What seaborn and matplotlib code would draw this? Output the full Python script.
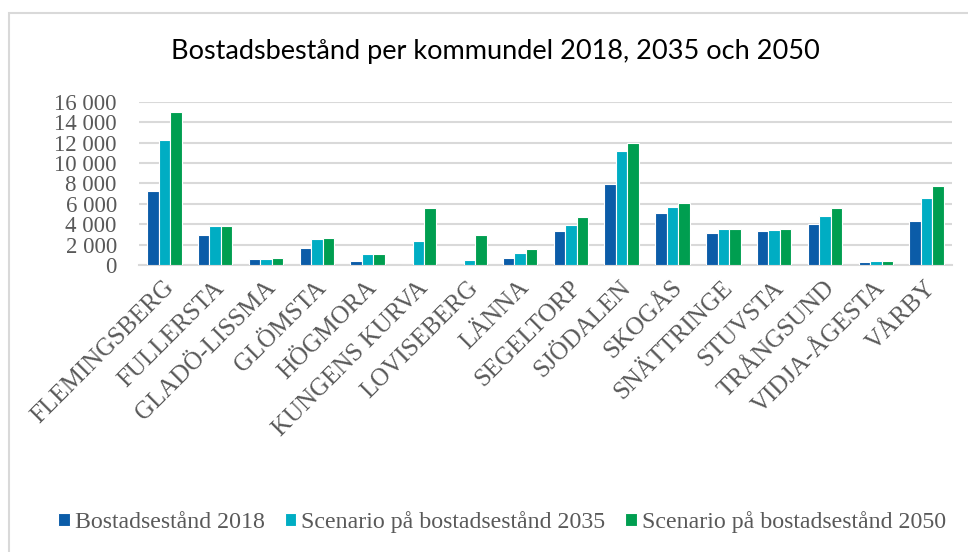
import matplotlib
matplotlib.use("Agg")
import matplotlib.pyplot as plt
from matplotlib.patches import Rectangle
from matplotlib.ticker import FuncFormatter, MultipleLocator
import matplotlib.transforms as mtransforms
import pandas as pd
import seaborn as sns

# Housing stock per district
districts = ["FLEMINGSBERG", "FULLERSTA", "GLADÖ-LISSMA", "GLÖMSTA", "HÖGMORA",
             "KUNGENS KURVA", "LOVISEBERG", "LÄNNA", "SEGELTORP", "SJÖDALEN",
             "SKOGÅS", "SNÄTTRINGE", "STUVSTA", "TRÅNGSUND", "VIDJA-ÅGESTA", "VÅRBY"]
stock_2018 = [7250, 2950, 560, 1670, 400, 0, 30, 650, 3330, 7900,
              5130, 3100, 3360, 4050, 300, 4340]
scenario_2035 = [12250, 3850, 620, 2550, 1110, 2350, 490, 1140, 3950, 11170,
                 5680, 3490, 3430, 4800, 390, 6600]
scenario_2050 = [15000, 3850, 650, 2610, 1110, 5580, 2900, 1530, 4670, 11980,
                 6100, 3490, 3490, 5550, 390, 7770]
series_names = ["Bostadsestånd 2018", "Scenario på bostadsestånd 2035",
                "Scenario på bostadsestånd 2050"]
title = "Bostadsbestånd per kommundel 2018, 2035 och 2050"

df = pd.concat([
    pd.DataFrame({"kommundel": districts, "antal": vals, "serie": name})
    for name, vals in zip(series_names, [stock_2018, scenario_2035, scenario_2050])
], ignore_index=True)

colors = ["#0b5ca8", "#00adc3", "#009e50"]
gray = "#595959"
grid = "#d9d9d9"

sns.set_theme(style="white")
plt.rcParams["font.family"] = ["Liberation Serif", "DejaVu Serif"]

fig = plt.figure(figsize=(9.68, 5.52), dpi=100)
fig.patch.set_facecolor("white")

# chart frame
fig.patches.append(Rectangle((9 / 968, -0.1), 2.0, 1 - 13 / 552 + 0.1,
                             transform=fig.transFigure, fill=False,
                             edgecolor=grid, linewidth=1.5, zorder=0))

ax = fig.add_axes([139 / 968, 1 - 265 / 552, (952 - 139) / 968, (265 - 101.7) / 552])
sns.barplot(data=df, x="kommundel", y="antal", hue="serie", palette=colors,
            saturation=1, width=0.68, edgecolor="white", linewidth=0.8,
            ax=ax, zorder=3)

ax.set_ylim(0, 16000)
ax.set_xlim(-0.5, len(districts) - 0.5)
ax.yaxis.set_major_locator(MultipleLocator(2000))
ax.yaxis.set_major_formatter(FuncFormatter(lambda v, p: f"{v:,.0f}".replace(",", " ")))
ax.grid(axis="y", color=grid, linewidth=1.5, zorder=0)
ax.set_axisbelow(True)
for side in ["top", "right", "left"]:
    ax.spines[side].set_visible(False)
ax.spines["bottom"].set_color(grid)
ax.spines["bottom"].set_linewidth(1.5)
ax.set_xlabel("")
ax.set_ylabel("")
ax.tick_params(axis="y", length=0, pad=16, labelsize=16.5, labelcolor=gray)
ax.tick_params(axis="x", length=0, pad=14, labelsize=18, labelcolor=gray)
shift = mtransforms.ScaledTranslation(6 / 100, 0, fig.dpi_scale_trans)
for lbl in ax.get_xticklabels():
    lbl.set_rotation(45)
    lbl.set_ha("right")
    lbl.set_rotation_mode("anchor")
    lbl.set_va("center")
    lbl.set_transform(lbl.get_transform() + shift)

handles, labels = ax.get_legend_handles_labels()
ax.get_legend().remove()
fig.legend(handles, labels, loc="center", bbox_to_anchor=(502 / 968, 1 - 522 / 552),
           ncol=3, frameon=False, fontsize=17.2, labelcolor=gray,
           handlelength=0.48, handleheight=0.48, handletextpad=0.2,
           columnspacing=0.85, borderaxespad=0, borderpad=0)

fig.text(495 / 968, 1 - 52 / 552, title, ha="center", va="center",
         fontsize=19.5, color="black", family=["Lato", "DejaVu Sans"])

fig.savefig("out.png", dpi=100)
